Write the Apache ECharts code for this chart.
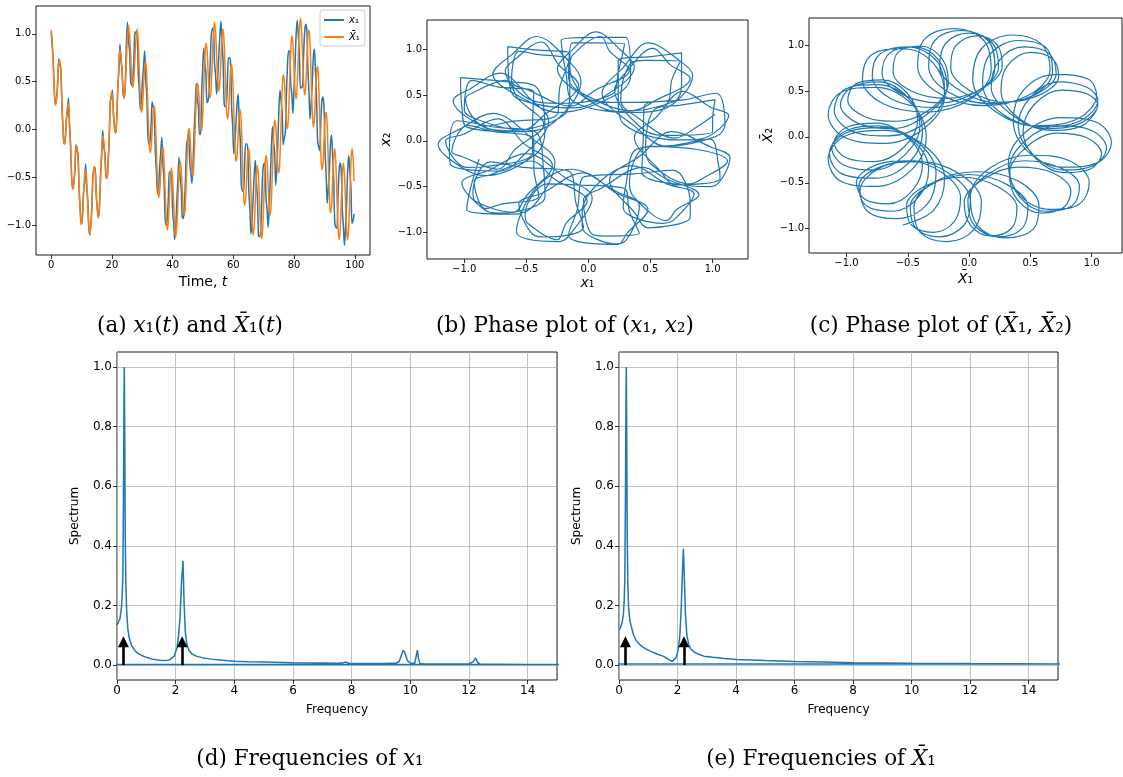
<!DOCTYPE html>
<html><head><meta charset="utf-8">
<script src="https://cdn.jsdelivr.net/npm/echarts@6.0.0/dist/echarts.min.js"></script>
<style>html,body{margin:0;padding:0;background:#fff}#c{width:1123px;height:777px}</style>
</head><body><div id="c"></div><script>
// sampling step of the time grid (time units per sample)
const timeStep = 0.3538;

// X̄1(t) (a)/(c)
const xbar1 = [
1.04,.92,.66,.39,.26,.31,.50,.68,.73,.58,.29,.01,-.15,-.11,.06,.23,.27,.11,-.18,-.47,-.62,-.58,-.40,-.22,-.17,-.31,-.59,-.85,-.99,-.92,-.71,-.50,-.42,-.53,-.77,-1.00,-1.10,-.99,-.75,-.50,-.38,-.46,-.66,-.85,-.92,-.77,-.50,-.22,-.07,-.12,-.29,-.47,-.51,-.35,-.06,.23,.39,.35,.18,.01,-.04,.12,.40,.68,.83,.77,.59,.39,.33,.46,.71,.96,1.08,.99,.77,.54,.44,.53,.75,.96,
1.05,.91,.62,.34,.18,.25,.45,.65,.71,.54,.24,-.07,-.24,-.19,0,.19,.24,.07,-.24,-.54,-.71,-.65,-.45,-.25,-.18,-.34,-.62,-.91,-1.05,-.96,-.73,-.50,-.40,-.52,-.77,-1.02,-1.12,-1.00,-.73,-.46,-.33,-.41,-.62,-.84,-.90,-.75,-.45,-.15,.01,-.04,-.24,-.43,-.48,-.31,0,.31,.48,.43,.24,.04,-.01,.15,.45,.75,.90,.84,.62,.41,.33,.46,.73,1.00,1.12,1.02,.77,.52,.40,.50,.73,.96,
1.05,.90,.59,.26,.11,.17,.40,.63,.68,.52,.18,-.16,-.33,-.28,-.06,.16,.21,.04,-.29,-.63,-.79,-.73,-.50,-.26,-.20,-.34,-.66,-.97,-1.10,-1.01,-.75,-.48,-.38,-.49,-.77,-1.04,-1.14,-1.01,-.71,-.41,-.27,-.34,-.59,-.82,-.89,-.73,-.40,-.07,.10,.04,-.18,-.40,-.45,-.28,.06,.40,.57,.52,.29,.07,.01,.17,.50,.82,.98,.90,.66,.41,.32,.45,.75,1.04,1.16,1.05,.77,.48,.36,.45,.71,.97,
1.04,.89,.54,.20,.03,.10,.35,.59,.66,.48,.12,-.24,-.42,-.36,-.12,.12,.18,.01,-.35,-.70,-.87,-.80,-.54,-.29,-.20,-.36,-.69,-1.01,-1.15,-1.05,-.76,-.47,-.35,-.47,-.76,-1.05,-1.15,-1.01,-.69,-.36,-.20,-.29,-.54
];
// X̄2(t)
const xbar2 = [
.29,.12,.07,.22,.50,.77,.92,.85,.66,.46,.38,.50,.75,.99,1.10,1.00,.77,.53,.42,.50,.71,.92,.99,.85,.59,.31,.17,.22,.40,.58,.62,.47,.18,-.11,-.27,-.23,-.06,.11,.15,-.01,-.29,-.58,-.73,-.68,-.50,-.31,-.26,-.39,-.66,-.92,-1.04,-.96,-.75,-.53,-.44,-.54,-.77,-.99,-1.08,-.96,-.71,-.46,-.33,-.39,-.59,-.77,-.83,-.68,-.40,-.12,.04,-.01,-.18,-.35,-.39,-.23,.06,.35,.51,.47,
.35,.15,.09,.25,.54,.84,.98,.91,.69,.46,.37,.50,.76,1.02,1.13,1.02,.76,.50,.37,.46,.69,.91,.98,.84,.54,.25,.09,.15,.35,.54,.60,.43,.12,-.19,-.36,-.31,-.12,.07,.12,-.04,-.35,-.65,-.81,-.75,-.54,-.34,-.26,-.41,-.69,-.96,-1.09,-1.00,-.76,-.52,-.41,-.52,-.76,-1.00,-1.09,-.96,-.69,-.41,-.26,-.34,-.54,-.75,-.81,-.65,-.35,-.04,.12,.07,-.12,-.31,-.36,-.19,.12,.43,.60,.54,
.40,.17,.11,.26,.59,.90,1.05,.97,.71,.45,.36,.48,.77,1.05,1.16,1.04,.75,.45,.32,.41,.66,.90,.98,.82,.50,.17,.01,.07,.29,.52,.57,.40,.06,-.28,-.45,-.40,-.18,.04,.10,-.07,-.40,-.73,-.89,-.82,-.59,-.34,-.27,-.41,-.71,-1.01,-1.14,-1.04,-.77,-.49,-.38,-.48,-.75,-1.01,-1.10,-.97,-.66,-.34,-.20,-.26,-.50,-.73,-.79,-.63,-.29,.04,.21,.16,-.06,-.28,-.33,-.16,.18,.52,.68,.63,
.45,.20,.12,.29,.62,.96,1.11,1.01,.73,.45,.34,.47,.77,1.07,1.18,1.05,.73,.41,.27,.36,.62,.89,.96,.80,.45,.10,-.07,-.01,.24,.48,.54,.36,0,-.36,-.54,-.48,-.24,.01,.07,-.10,-.45,-.80,-.96
];
// x1(t) (a)/(b)
const x1 = [
1.02,.86,.70,.37,.26,.33,.46,.74,.67,.64,.25,.03,-.15,-.13,.10,.17,.33,.05,-.14,-.49,-.62,-.56,-.44,-.16,-.23,-.25,-.63,-.83,-.99,-.94,-.67,-.56,-.36,-.59,-.73,-1.02,-1.10,-.97,-.79,-.44,-.44,-.40,-.70,-.83,-.92,-.79,-.46,-.28,-.01,-.18,-.25,-.49,-.51,-.33,-.10,.29,.33,.41,.14,.03,-.04,.10,.44,.62,.89,.71,.63,.37,.33,.48,
.90,1.12,.92,.82,.50,.46,.54,.74,1.02,1.00,
1.00,.60,.41,.21,.29,.52,.66,.82,.54,.35,-.05,-.16,-.13,.04,.29,.24,.19,-.24,-.45,-.67,-.60,-.38,-.24,-.08,-.35,-.53,-.91,-1.00,-.94,-.73,-.44,-.45,-.45,-.83,-.98,-1.15,-1.01,-.73,-.52,-.29,-.50,-.60,-.91,-.93,-.79,-.52,-.16,-.10,-.04,-.35,-.45,-.56,-.37,-.04,.21,.48,.31,.24,-.05,-.05,
.35,.63,.85,.69,.60,.28,.30,.39,.69,.98,1.05,1.06,.70,.58,.37,.54,.76,.98,1.13,.90,
.72,.28,.24,.24,.50,.75,.75,.69,.23,.02,-.25,-.14,.06,.26,.37,.10,-.12,-.58,-.64,-.65,-.40,-.15,-.15,-.20,-.65,-.84,-1.09,-.95,-.71,-.47,-.32,-.54,-.71,-1.11,-1.12,-1.06,-.75,-.43,-.36,-.35,-.72,-.84,-1.02,-.80,-.50,-.19,.03,-.13,-.23,-.58,
-.42,-.14,.22,.41,.30,.18,-.16,-.09,-.03,.37,.68,.82,.82,.48,.37,.17,.42,.67,.99,1.14,.99,.82,.43,.44,.45,.78,1.03,1.10,1.03,.63,
.38,.11,.28,.48,.75,.84,.61,.35,-.12,-.18,-.22,.08,.30,.34,.22,-.24,-.48,-.77,-.61,-.42,-.15,-.06,-.28,-.53,-.98,-1.02,-1.03,-.69,-.43,-.35,-.42,-.83,-1.01,-1.21,-1.02,-.77,-.43,-.27,-.43,-.60,-.98,-.95,-.88
];
// x2(t)
const x2 = [
.29,.14,.03,.28,.44,.83,.88,.87,.66,.44,.42,.44,.81,.93,1.14,.98,.77,.55,.38,.56,.65,.98,.95,.87,.59,.29,.21,.16,.46,.52,.66,.45,.18,-.09,-.31,-.17,-.12,.17,.11,.01,-.29,-.60,-.69,-.74,-.44,-.37,-.22,-.41,-.66,-.90,-1.08,-.90,-.81,-.47,-.48,-.52,-.77,-1.01,-1.04,-1.02,-.65,-.52,-.29,-.41,-.59,-.75,-.87,-.62,-.46,-.06,
-.10,-.22,-.41,-.47,-.25,-.06,.35,.39,.45,.22,
.10,.06,.16,.56,.73,1.01,.83,.68,.44,.33,.52,.69,1.07,1.07,1.06,.75,.51,.41,.44,.77,.88,1.08,.83,.61,.29,.12,.24,.34,.66,.59,.53,.16,-.13,-.28,-.29,0,.07,.24,-.03,-.27,-.60,-.78,-.66,-.56,-.23,-.29,-.33,-.68,-.94,-1.05,-1.02,-.69,-.57,-.35,-.56,-.75,-1.01,-1.13,-.94,-.77,
-.27,-.47,-.58,-.86,-.90,-.73,-.49,-.09,-.05,.02,-.28,-.41,-.48,-.33,.04,.25,.54,.37,.28,.02,
.01,.19,.46,.88,.92,.96,.62,.43,.32,.43,.79,.98,1.19,.99,.81,.46,.36,.47,.67,1.03,.99,.96,.55,.28,.11,.15,.44,.57,.74,.46,.22,-.18,-.33,-.26,-.10,.22,.15,.10,-.33,-.61,-.79,-.75,-.46,-.32,-.14,-.40,-.62,-.99,-1.10,-.99,
-.51,-.31,-.55,-.71,-1.09,-1.13,-1.03,-.75,-.39,-.36,-.32,-.68,-.83,-.95,-.78,-.43,-.16,.10,-.07,-.18,-.50,-.49,-.34,-.02,.38,.45,.52,.18,.05,-.06,
.15,.52,.80,1.07,.86,.72,.35,.31,.43,.73,1.10,1.13,1.13,.71,.50,.31,.43,.73,.95,1.14,.86,.65,.20,.10,.15,.38,.69,.65,.60,.12,-.14,-.38,-.30,-.04,.14,.30,0,-.23,-.69,-.80,-.75,-.52,-.20
];

// spectrum of x1 (panel d); the last point is the wrap-around of the FFT line
const specFreqX1 = [0,.05,.1,.15,.18,.2,.22,.24,.25,.265,.28,.3,.33,.37,.42,.5,.6,.7,.85,1.0,1.2,1.45,1.65,1.8,1.95,2.05,2.1,2.15,2.2,2.25,2.29,2.33,2.38,2.45,2.55,2.7,2.9,3.2,3.6,4.0,4.5,5,6,7,7.6,7.7,7.75,7.8,7.9,8.5,9,9.5,9.62,9.7,9.76,9.82,9.9,10.0,10.15,10.2,10.24,10.28,10.33,10.5,11,12,12.15,12.22,12.26,12.3,12.38,13,14,15,15.5,-1];
const specValX1 = [.135,.14,.155,.19,.24,.30,.55,.92,1.0,.75,.45,.28,.18,.12,.09,.065,.05,.04,.032,.026,.02,.016,.015,.018,.03,.06,.10,.16,.28,.35,.20,.11,.07,.05,.038,.03,.025,.02,.016,.013,.011,.01,.008,.007,.006,.008,.012,.01,.006,.005,.005,.006,.012,.035,.05,.04,.015,.007,.006,.012,.05,.02,.005,.004,.004,.004,.012,.024,.02,.008,.003,.003,.002,.002,.002,.002];
// spectrum of X̄1 (panel e)
const specFreqXbar1 = [0,.05,.1,.15,.18,.2,.22,.24,.25,.265,.28,.3,.33,.37,.42,.5,.6,.75,.9,1.1,1.3,1.5,1.65,1.75,1.82,1.88,1.95,2.02,2.08,2.13,2.17,2.2,2.23,2.27,2.32,2.38,2.45,2.55,2.7,2.9,3.2,3.6,4,5,6,7,8,10,12,15,15.5,-1];
const specValXbar1 = [.118,.125,.14,.17,.22,.30,.55,.92,1.0,.75,.45,.28,.19,.15,.13,.10,.08,.065,.055,.045,.037,.03,.022,.016,.012,.014,.025,.05,.1,.2,.32,.39,.3,.17,.1,.07,.055,.045,.037,.03,.026,.022,.019,.015,.012,.01,.008,.006,.005,.004,.004,.004];

// theoretical frequencies marked with arrows
const arrowFreqs = [0.22, 2.22];
const arrowHeight = 0.078;

// tick values
const timeTicks = [0,20,40,60,80,100];
const stateTicks = [-1,-0.5,0,0.5,1];
const freqTicks = [0,2,4,6,8,10,12,14];
const specTicks = [0,0.2,0.4,0.6,0.8,1.0];

const FONT = 'DejaVu Sans';
const SERIF = 'DejaVu Serif';
const BLUE = '#1f77b4', ORANGE = '#ff7f0e';
const fmt1 = v => (v < -1e-9 ? '\u2212' : '') + Math.abs(v).toFixed(1);
const fmt0 = v => String(Math.round(v));
const XB = 'X\u0304';

function axis(gridIndex, min, max, ticks, fmt, fontSize, extra) {
  return Object.assign({
    type: 'value', gridIndex, min, max,
    axisLine: { show: false, onZero: false },
    axisTick: { show: true, inside: false, length: 4, customValues: ticks, lineStyle: { color: '#000', width: 0.8 } },
    axisLabel: { customValues: ticks, formatter: fmt, color: '#000', fontSize, fontFamily: FONT, margin: 5 },
    splitLine: { show: false }
  }, extra || {});
}
const gridLine = { show: true, lineStyle: { color: '#b0b0b0', width: 0.8 } };
const ital = (size, fam) => ({ fontStyle: 'italic', fontSize: size, fontFamily: fam || FONT, color: '#000' });

const chart = echarts.init(document.getElementById('c'), null, { renderer: 'canvas' });
const gridBase = { show: true, borderColor: '#000', borderWidth: 0.9, backgroundColor: 'transparent' };
const arrowMark = {
  silent: true, symbol: ['none', 'triangle'], symbolSize: 11, label: { show: false },
  lineStyle: { color: '#000', width: 2.6, type: 'solid' }, itemStyle: { color: '#000' }, emphasis: { disabled: true },
  data: arrowFreqs.map(f => [{ coord: [f, 0] }, { coord: [f, arrowHeight] }])
};

const option = {
  animation: false,
  textStyle: { fontFamily: FONT },
  grid: [
    Object.assign({ left: 36, top: 6, width: 334, height: 249 }, gridBase),
    Object.assign({ left: 427, top: 20, width: 321, height: 239 }, gridBase),
    Object.assign({ left: 809, top: 18, width: 313, height: 235 }, gridBase),
    Object.assign({ left: 117, top: 352, width: 440, height: 328 }, gridBase),
    Object.assign({ left: 619, top: 352, width: 439, height: 328 }, gridBase)
  ],
  xAxis: [
    axis(0, -5, 105, timeTicks, fmt0, 10, { name: 'Time, {i|t}', nameLocation: 'middle', nameGap: 20,
      nameTextStyle: { fontSize: 14, color: '#000', rich: { i: ital(14) } } }),
    axis(1, -1.30, 1.285, stateTicks, fmt1, 10, { name: '{i|x}\u2081', nameLocation: 'middle', nameGap: 17,
      nameTextStyle: { fontSize: 14, color: '#000', rich: { i: ital(14) } } }),
    axis(2, -1.306, 1.247, stateTicks, fmt1, 10, { name: '{i|' + XB + '}\u2081', nameLocation: 'middle', nameGap: 19,
      nameTextStyle: { fontSize: 14, color: '#000', rich: { i: ital(14) } } }),
    axis(3, 0, 15, freqTicks, fmt0, 12, { name: 'Frequency', nameLocation: 'middle', nameGap: 24,
      nameTextStyle: { fontSize: 12, color: '#000' }, splitLine: gridLine }),
    axis(4, 0, 15, freqTicks, fmt0, 12, { name: 'Frequency', nameLocation: 'middle', nameGap: 24,
      nameTextStyle: { fontSize: 12, color: '#000' }, splitLine: gridLine })
  ],
  yAxis: [
    axis(0, -1.31, 1.29, stateTicks, fmt1, 10),
    axis(1, -1.29, 1.32, stateTicks, fmt1, 10, { name: '{i|x}\u2082', nameLocation: 'middle', nameGap: 33, nameRotate: 90,
      nameTextStyle: { fontSize: 14, color: '#000', rich: { i: ital(14) } } }),
    axis(2, -1.265, 1.295, stateTicks, fmt1, 10, { name: '{i|' + XB + '}\u2082', nameLocation: 'middle', nameGap: 33, nameRotate: 90,
      nameTextStyle: { fontSize: 14, color: '#000', rich: { i: ital(14) } } }),
    axis(3, -0.05, 1.05, specTicks, fmt1, 12, { name: 'Spectrum', nameLocation: 'middle', nameGap: 36, nameRotate: 90,
      nameTextStyle: { fontSize: 12, color: '#000' }, splitLine: gridLine }),
    axis(4, -0.05, 1.05, specTicks, fmt1, 12, { name: 'Spectrum', nameLocation: 'middle', nameGap: 36, nameRotate: 90,
      nameTextStyle: { fontSize: 12, color: '#000' }, splitLine: gridLine })
  ],
  legend: {
    data: ['x1', 'xbar1'], orient: 'vertical', left: 320, top: 10, icon: 'rect',
    itemWidth: 20, itemHeight: 2, itemGap: 7, padding: [5, 5, 4, 4],
    borderColor: '#cccccc', borderWidth: 1, borderRadius: 3, backgroundColor: 'rgba(255,255,255,0.85)',
    formatter: n => n === 'x1' ? '{i|x}\u2081' : '{i|' + XB + '}\u2081',
    textStyle: { fontSize: 10, color: '#000', rich: { i: ital(10) } }
  },
  series: [
    { name: 'x1', type: 'line', xAxisIndex: 0, yAxisIndex: 0, symbol: 'none', smooth: 0.3, smoothConstraint: false, z: 2,
      data: x1.map((v, i) => [i * timeStep, v]), lineStyle: { color: BLUE, width: 1.5 }, itemStyle: { color: BLUE } },
    { name: 'xbar1', type: 'line', xAxisIndex: 0, yAxisIndex: 0, symbol: 'none', smooth: 0.37, smoothConstraint: false, z: 3,
      data: xbar1.map((v, i) => [i * timeStep, v]), lineStyle: { color: ORANGE, width: 1.5 }, itemStyle: { color: ORANGE } },
    { name: 'phaseX', type: 'line', xAxisIndex: 1, yAxisIndex: 1, symbol: 'none', smooth: 0.36, smoothConstraint: false,
      data: x1.map((v, i) => [v, x2[i]]), lineStyle: { color: BLUE, width: 1.2 } },
    { name: 'phaseXbar', type: 'line', xAxisIndex: 2, yAxisIndex: 2, symbol: 'none', smooth: 0.37, smoothConstraint: false,
      data: xbar1.map((v, i) => [v, xbar2[i]]), lineStyle: { color: BLUE, width: 1.2 } },
    { name: 'specX1', type: 'line', xAxisIndex: 3, yAxisIndex: 3, symbol: 'none', smooth: false,
      data: specFreqX1.map((f, i) => [f, specValX1[i]]), lineStyle: { color: BLUE, width: 1.5 }, markLine: arrowMark },
    { name: 'specXbar1', type: 'line', xAxisIndex: 4, yAxisIndex: 4, symbol: 'none', smooth: false,
      data: specFreqXbar1.map((f, i) => [f, specValXbar1[i]]), lineStyle: { color: BLUE, width: 1.5 }, markLine: arrowMark }
  ],
  graphic: [
    ['(a) {i|x}\u2081({i|t}) and {i|' + XB + '}\u2081({i|t})', 190, 326],
    ['(b) Phase plot of ({i|x}\u2081, {i|x}\u2082)', 565, 326],
    ['(c) Phase plot of ({i|' + XB + '}\u2081, {i|' + XB + '}\u2082)', 941, 326],
    ['(d) Frequencies of {i|x}\u2081', 310, 759],
    ['(e) Frequencies of {i|' + XB + '}\u2081', 821, 759]
  ].map(([text, x, y]) => ({
    type: 'text', x, y, silent: true,
    style: { text, fontFamily: SERIF, fontSize: 21.5, fill: '#000', align: 'center', verticalAlign: 'middle',
      rich: { i: { fontStyle: 'italic', fontFamily: SERIF, fontSize: 21.5, fill: '#000' } } }
  }))
};
chart.setOption(option);
</script></body></html>
